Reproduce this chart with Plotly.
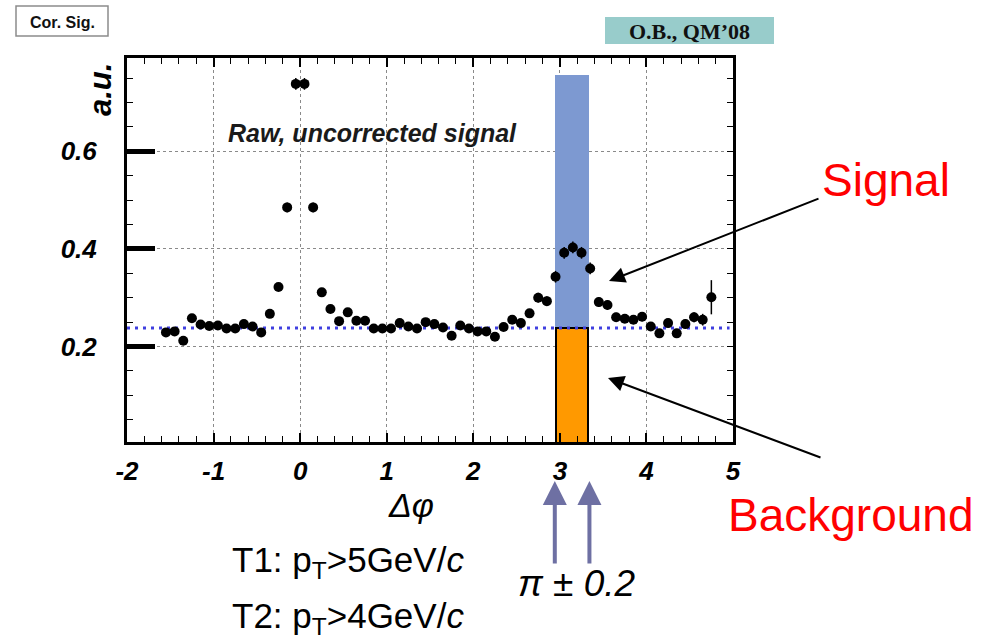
import math
import plotly.graph_objects as go

# ---------------- data ----------------
dphi = [-1.55, -1.45, -1.35, -1.25, -1.15, -1.05, -0.95, -0.85, -0.75, -0.65,
        -0.55, -0.45, -0.35, -0.25, -0.15, -0.05, 0.05, 0.15, 0.25, 0.35,
        0.45, 0.55, 0.65, 0.75, 0.85, 0.95, 1.05, 1.15, 1.25, 1.35,
        1.45, 1.55, 1.65, 1.75, 1.85, 1.95, 2.05, 2.15, 2.25, 2.35,
        2.45, 2.55, 2.65, 2.75, 2.85, 2.95, 3.05, 3.15, 3.25, 3.35,
        3.45, 3.55, 3.65, 3.75, 3.85, 3.95, 4.05, 4.15, 4.25, 4.35,
        4.45, 4.55, 4.65, 4.75]
signal = [0.229, 0.231, 0.212, 0.258, 0.245, 0.242, 0.243, 0.237, 0.237, 0.246,
          0.241, 0.229, 0.267, 0.322, 0.485, 0.738, 0.738, 0.485, 0.311, 0.277,
          0.252, 0.270, 0.253, 0.253, 0.237, 0.237, 0.237, 0.248, 0.241, 0.237,
          0.250, 0.246, 0.239, 0.222, 0.243, 0.237, 0.231, 0.231, 0.220, 0.240,
          0.255, 0.248, 0.268, 0.300, 0.293, 0.343, 0.392, 0.403, 0.392, 0.360,
          0.291, 0.285, 0.260, 0.257, 0.255, 0.261, 0.241, 0.227, 0.248, 0.227,
          0.246, 0.260, 0.255, 0.301]
signal_err = [0.006, 0.006, 0.006, 0.006, 0.006, 0.006, 0.006, 0.006, 0.006, 0.006,
              0.006, 0.006, 0.007, 0.008, 0.010, 0.012, 0.012, 0.010, 0.008, 0.007,
              0.006, 0.006, 0.006, 0.006, 0.006, 0.006, 0.006, 0.006, 0.006, 0.006,
              0.006, 0.006, 0.006, 0.006, 0.006, 0.006, 0.006, 0.006, 0.006, 0.006,
              0.007, 0.007, 0.008, 0.010, 0.010, 0.012, 0.012, 0.012, 0.012, 0.012,
              0.010, 0.010, 0.009, 0.009, 0.009, 0.009, 0.009, 0.009, 0.009, 0.009,
              0.010, 0.010, 0.012, 0.035]
background_level = 0.238
window_center = [math.pi]
window_halfwidth = 0.2
signal_window_top = [0.756]
background_box = [background_level]

x_ticks = [-2, -1, 0, 1, 2, 3, 4, 5]
y_ticks = [0.2, 0.4, 0.6]
y_tick_text = ["0.2", "0.4", "0.6"]

# ---------------- figure ----------------
L, T, R, B = 127, 58, 733, 442
W, H = 992, 644


def px(xp):
    return (xp - L) / (R - L)


def py(yp):
    return (B - yp) / (B - T)


fig = go.Figure()

fig.add_trace(go.Bar(x=window_center, y=signal_window_top, width=[2 * window_halfwidth],
                     marker=dict(color="#7D99D1", line=dict(width=0)),
                     showlegend=False, hoverinfo="skip"))
fig.add_trace(go.Bar(x=window_center, y=background_box, width=[2 * window_halfwidth - 0.03],
                     marker=dict(color="#FF9900", line=dict(color="black", width=2)),
                     showlegend=False, hoverinfo="skip"))

fig.add_trace(go.Scatter(x=[-2, 4.96], y=[background_level, background_level], mode="lines",
                         line=dict(color="#3F3FE0", width=3, dash="3px,5px"),
                         showlegend=False, hoverinfo="skip"))

fig.add_trace(go.Scatter(x=dphi, y=signal, mode="markers",
                         marker=dict(color="black", size=10, symbol="circle"),
                         error_y=dict(type="data", array=signal_err, color="black",
                                      thickness=1.5, width=0),
                         showlegend=False))

# invisible trace to hold the right-hand axis
fig.add_trace(go.Scatter(x=[None], y=[None], yaxis="y2", showlegend=False, hoverinfo="skip"))

tickfont = dict(family="Liberation Sans", size=26, color="black", weight="bold", style="italic")

fig.update_layout(
    width=W, height=H,
    margin=dict(l=L, r=W - R, t=T, b=H - B),
    paper_bgcolor="white", plot_bgcolor="white",
    barmode="overlay", bargap=0,
    xaxis=dict(range=[-2, 5.0], tickvals=x_ticks, ticktext=[str(v) for v in x_ticks],
               ticks="inside", ticklen=9, tickwidth=1.5, tickcolor="black",
               minor=dict(dtick=0.2, ticks="inside", ticklen=6, tickwidth=1.2,
                          tickcolor="black", showgrid=False),
               showline=True, linewidth=3, linecolor="black", mirror="ticks",
               showgrid=True, gridcolor="#8a8a8a", gridwidth=1.3, griddash="dot",
               zeroline=False, tickfont=tickfont, ticklabelstandoff=4),
    yaxis=dict(range=[0.0045, 0.791], tickvals=y_ticks, ticktext=y_tick_text,
               ticks="inside", ticklen=28, tickwidth=5, tickcolor="black",
               minor=dict(dtick=0.05, ticks="inside", ticklen=6, tickwidth=1.2,
                          tickcolor="black", showgrid=False),
               showline=True, linewidth=3, linecolor="black", mirror=True,
               showgrid=True, gridcolor="#8a8a8a", gridwidth=1.3, griddash="dot",
               zeroline=False, tickfont=tickfont, ticklabelstandoff=22),
    yaxis2=dict(range=[0.0045, 0.791], overlaying="y", side="right", dtick=0.05, tick0=0,
                ticks="inside", ticklen=6, tickwidth=1.2, tickcolor="black",
                showticklabels=False, showgrid=False, showline=False, zeroline=False),
)

ann = []
sans = "Liberation Sans"
ann.append(dict(text="<b><i>a.u.</i></b>", xref="paper", yref="paper", x=px(100), y=py(90),
                textangle=-90, showarrow=False, font=dict(family=sans, size=31, color="black"),
                xanchor="center", yanchor="middle"))
ann.append(dict(text="<b><i>Raw, uncorrected signal</i></b>", xref="paper", yref="paper",
                x=px(372), y=py(133), showarrow=False,
                font=dict(family=sans, size=25, color="#1a1a1a"), xanchor="center", yanchor="middle"))
ann.append(dict(text="<b>Cor. Sig.</b>", xref="paper", yref="paper", x=px(62), y=py(22),
                showarrow=False, font=dict(family=sans, size=16, color="#111"),
                xanchor="center", yanchor="middle"))
ann.append(dict(text="<b>O.B., QM’08</b>", xref="paper", yref="paper", x=px(689), y=py(31),
                showarrow=False, font=dict(family="Liberation Serif", size=22, color="#111"),
                xanchor="center", yanchor="middle"))
ann.append(dict(text="Signal", xref="paper", yref="paper", x=px(886), y=py(180),
                showarrow=False, font=dict(family=sans, size=46, color="#FF0000"),
                xanchor="center", yanchor="middle"))
ann.append(dict(text="Background", xref="paper", yref="paper", x=px(851), y=py(515),
                showarrow=False, font=dict(family=sans, size=46, color="#FF0000"),
                xanchor="center", yanchor="middle"))
ann.append(dict(text="<i>Δφ</i>", xref="paper", yref="paper", x=px(411), y=py(505),
                showarrow=False, font=dict(family=sans, size=34, color="black"),
                xanchor="center", yanchor="middle"))
ann.append(dict(text="T1: p<sub>T</sub>>5GeV/<i>c</i>", xref="paper", yref="paper",
                x=px(230), y=py(562), showarrow=False,
                font=dict(family=sans, size=35, color="black"), xanchor="left", yanchor="middle"))
ann.append(dict(text="T2: p<sub>T</sub>>4GeV/<i>c</i>", xref="paper", yref="paper",
                x=px(230), y=py(618), showarrow=False,
                font=dict(family=sans, size=35, color="black"), xanchor="left", yanchor="middle"))
ann.append(dict(text="<i>π ± 0.2</i>", xref="paper", yref="paper", x=px(577), y=py(583),
                showarrow=False, font=dict(family=sans, size=37, color="black"),
                xanchor="center", yanchor="middle"))

# pointer arrows
ann.append(dict(text="", x=px(609), y=py(281), xref="paper", yref="paper",
                ax=211, ay=-83, showarrow=True, arrowhead=2, arrowsize=1.6, arrowwidth=2,
                arrowcolor="black"))
ann.append(dict(text="", x=px(608), y=py(378), xref="paper", yref="paper",
                ax=214, ay=80, showarrow=True, arrowhead=2, arrowsize=1.6, arrowwidth=2,
                arrowcolor="black"))
# window edge arrows
for xe in (math.pi - window_halfwidth, math.pi + window_halfwidth):
    ann.append(dict(text="", x=xe, y=py(481), xref="x", yref="paper",
                    ax=0, ay=84, showarrow=True, arrowhead=2, arrowsize=1.2, arrowwidth=4,
                    arrowcolor="#6E70A3"))

fig.update_layout(annotations=ann)

fig.update_layout(shapes=[
    dict(type="rect", xref="paper", yref="paper", x0=px(16), x1=px(108), y0=py(36), y1=py(6),
         line=dict(color="#8c8c8c", width=1.5), fillcolor="rgba(0,0,0,0)", layer="above"),
    dict(type="rect", xref="paper", yref="paper", x0=px(605), x1=px(774), y0=py(44), y1=py(17),
         line=dict(width=0), fillcolor="#98CCCB", layer="below"),
])

fig.write_html("out.html")
